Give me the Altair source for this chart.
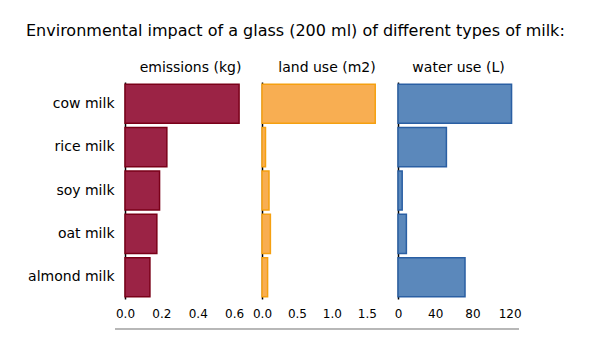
import altair as alt
import pandas as pd

milks = ["cow milk", "rice milk", "soy milk", "oat milk", "almond milk"]
emissions = [0.627, 0.23, 0.19, 0.175, 0.137]
land_use = [1.62, 0.05, 0.1, 0.12, 0.08]
water_use = [122, 52, 4.5, 9, 72]

df = pd.DataFrame({"milk": milks, "emissions": emissions,
                   "land": land_use, "water": water_use})

FONT = "DejaVu Sans"
H = 217

def panel(field, title, domain, ticks, width, fill, stroke, first):
    yaxis = alt.Axis(title=None, labels=first, ticks=False, domain=True,
                     domainColor="black", domainWidth=1.5,
                     labelFontSize=14, labelFont=FONT, labelColor="black",
                     labelPadding=11 if first else 0)
    bars = alt.Chart(df).mark_bar(fill=fill, stroke=stroke, strokeWidth=1.5).encode(
        y=alt.Y("milk:N", sort=milks, axis=yaxis,
                scale=alt.Scale(paddingInner=0.1, paddingOuter=0.05)),
        x=alt.X(f"{field}:Q",
                scale=alt.Scale(domain=domain, nice=False),
                axis=alt.Axis(title=None, values=ticks, grid=False, domain=False,
                              ticks=False, labelFontSize=12, labelFont=FONT,
                              labelColor="black", labelPadding=9,
                              labelFlush=False,
                              format="d" if field == "water" else ".1f")),
    )
    rule = alt.Chart(df).mark_rule(color="#b5b5b5", strokeWidth=1).encode(
        x=alt.value(-10 if first else -6), x2=alt.value(width),
        y=alt.value(H + 30))
    return alt.layer(bars, rule).properties(
        width=width, height=H,
        title=alt.TitleParams(title, fontSize=14, font=FONT, fontWeight="normal",
                              color="black", offset=7))

c1 = panel("emissions", "emissions (kg)", [0, 0.72], [0, 0.2, 0.4, 0.6], 131,
           "#9b2345", "#7a0019", True)
c2 = panel("land", "land use (m2)", [0, 1.86], [0, 0.5, 1.0, 1.5], 130,
           "#f8ae52", "#f5a010", False)
c3 = panel("water", "water use (L)", [0, 130], [0, 40, 80, 120], 121,
           "#5b88bb", "#2a5fa3", False)

chart = alt.hconcat(c1, c2, c3, spacing=6, bounds="flush").properties(
    title=alt.TitleParams("Environmental impact of a glass (200 ml) of different types of milk:",
                          fontSize=16, font=FONT, fontWeight="normal", color="black",
                          anchor="middle", offset=22, dx=21),
    padding={"left": 25, "top": 23, "right": 5, "bottom": 5},
    background="white",
).configure_view(stroke="transparent", strokeWidth=0)

chart.save("out.html", embed_options={"renderer": "svg", "actions": False})
